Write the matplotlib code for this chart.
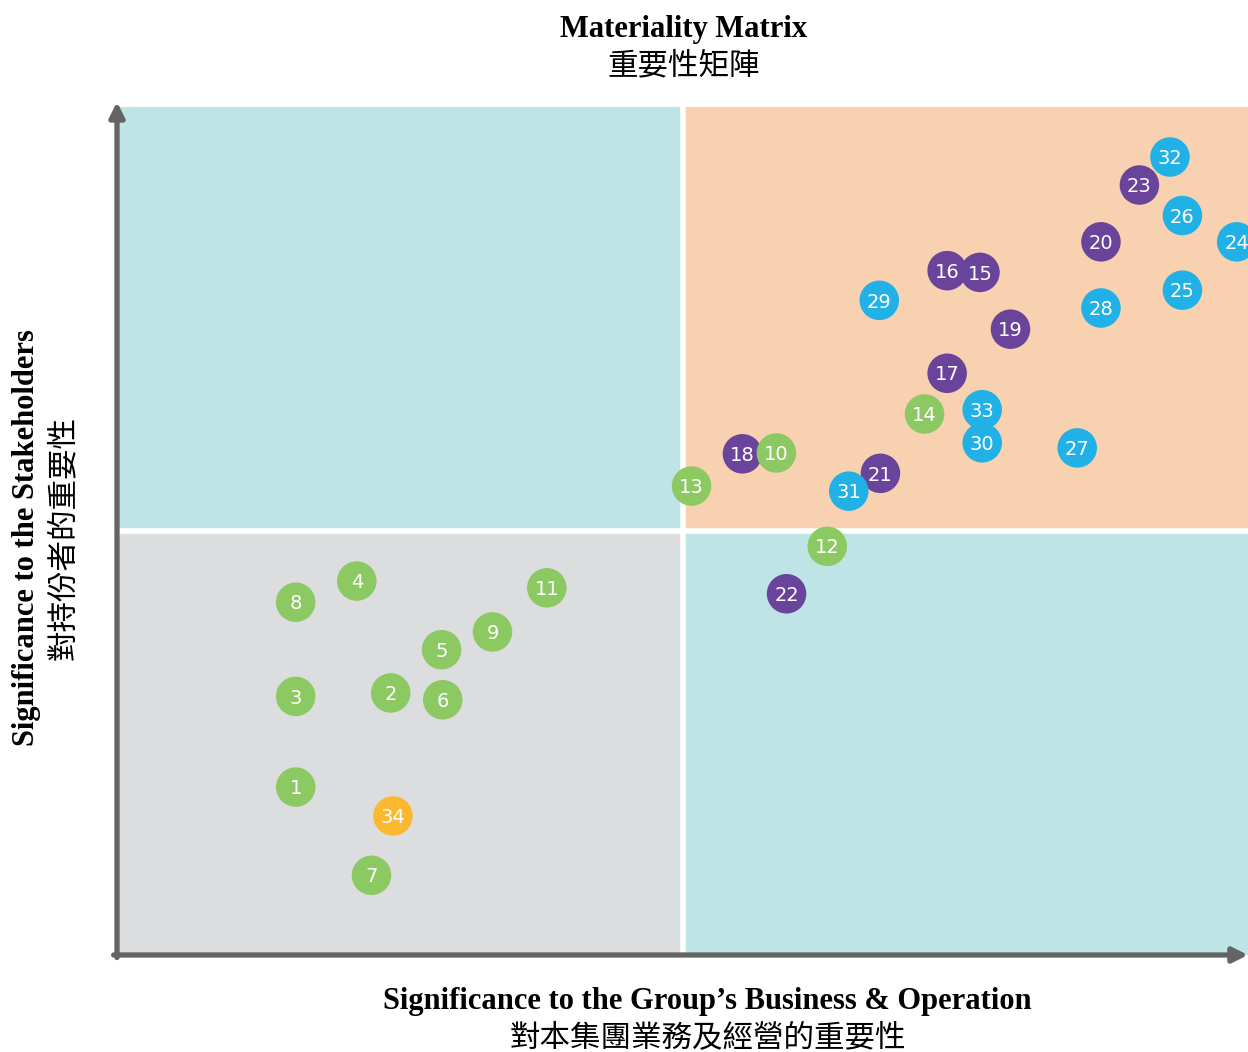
import matplotlib.pyplot as plt
from matplotlib.patches import Rectangle

plt.rcParams['font.family'] = ['Liberation Serif', 'Noto Sans CJK TC', 'DejaVu Sans']

# issue number, business score (x), stakeholder score (y)
green_ids = [1, 2, 3, 4, 5, 6, 7, 8, 9, 10, 11, 12, 13, 14]
green_x = [15.8, 24.2, 15.8, 21.2, 28.7, 28.8, 22.5, 15.8, 33.2, 58.3, 38.0, 62.8, 50.8, 71.4]
green_y = [19.8, 30.9, 30.5, 44.1, 36.0, 30.1, 9.4, 41.6, 38.1, 59.2, 43.3, 48.2, 55.3, 63.8]

purple_ids = [15, 16, 17, 18, 19, 20, 21, 22, 23]
purple_x = [76.3, 73.4, 73.4, 55.3, 79.0, 87.0, 67.5, 59.2, 90.4]
purple_y = [80.5, 80.7, 68.6, 59.1, 73.8, 84.1, 56.8, 42.6, 90.8]

blue_ids = [24, 25, 26, 27, 28, 29, 30, 31, 32, 33]
blue_x = [99.0, 94.2, 94.2, 84.9, 87.0, 67.4, 76.5, 64.7, 93.1, 76.5]
blue_y = [84.1, 78.4, 87.2, 59.8, 76.3, 77.2, 60.4, 54.7, 94.1, 64.3]

orange_ids = [34]
orange_x = [24.4]
orange_y = [16.4]

fig = plt.figure(figsize=(12.48, 10.52), dpi=100)
ax = fig.add_axes([117/1248, 97/1052, 1131/1248, 848/1052])
ax.set_xlim(0, 100)
ax.set_ylim(0, 100)
ax.axis('off')

# quadrants
ax.add_patch(Rectangle((0, 50), 50, 50, color='#bfe4e5', zorder=0))
ax.add_patch(Rectangle((50, 50), 50, 50, color='#f8d2b0', zorder=0))
ax.add_patch(Rectangle((0, 0), 50, 50, color='#dcdddf', zorder=0))
ax.add_patch(Rectangle((50, 0), 50, 50, color='#bfe4e5', zorder=0))
ax.axvline(50, color='white', lw=4, zorder=1)
ax.axhline(50, color='white', lw=4, zorder=1)

# axes arrows
arrow = dict(arrowstyle='-|>', lw=3.8, color='#646464', mutation_scale=22, shrinkA=0, shrinkB=0)
ax.annotate('', xy=(0, 1.006), xytext=(0, -0.003), xycoords='axes fraction',
            arrowprops=arrow, annotation_clip=False, zorder=5)
ax.annotate('', xy=(1.0, 0), xytext=(-0.003, 0), xycoords='axes fraction',
            arrowprops=arrow, annotation_clip=False, zorder=5)

groups = [(purple_ids, purple_x, purple_y, '#6a449a'),
          (green_ids, green_x, green_y, '#8dc963'),
          (blue_ids, blue_x, blue_y, '#22b1e6'),
          (orange_ids, orange_x, orange_y, '#fbb830')]
z = 2
for ids, xs, ys, col in groups:
    for i, x, y in sorted(zip(ids, xs, ys), reverse=True):
        ax.scatter(x, y, s=810, color=col, edgecolors='none', zorder=z)
        ax.text(x, y - 0.2, str(i), color='white', fontsize=14, family='DejaVu Sans',
                ha='center', va='center', zorder=z + 0.5)
        z += 1

fig.text(0.548, 0.972, 'Materiality Matrix', ha='center', va='center',
         fontsize=22, fontweight='bold')
fig.text(0.548, 0.937, '重要性矩陣', ha='center', va='center',
         fontsize=22, family=['Noto Sans CJK TC'])
fig.text(0.567, 0.048, 'Significance to the Group’s Business & Operation', ha='center',
         va='center', fontsize=22, fontweight='bold')
fig.text(0.567, 0.013, '對本集團業務及經營的重要性', ha='center', va='center',
         fontsize=22, family=['Noto Sans CJK TC'])
fig.text(0.021, 0.489, 'Significance to the Stakeholders', ha='center', va='center',
         rotation=90, fontsize=22, fontweight='bold')
fig.text(0.051, 0.489, '對持份者的重要性', ha='center', va='center',
         rotation=90, fontsize=22, family=['Noto Sans CJK TC'])

fig.savefig('out.png', dpi=100)
